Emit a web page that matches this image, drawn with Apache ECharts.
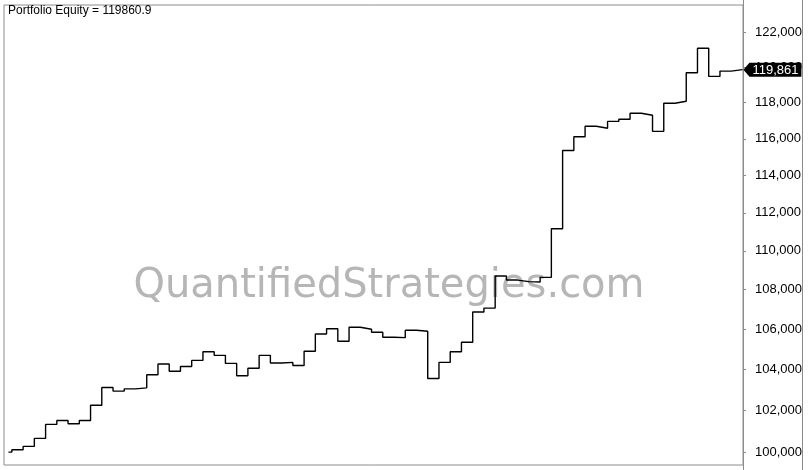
<!DOCTYPE html>
<html lang="en">
<head>
    <meta charset="UTF-8">
    <title>Portfolio Equity</title>
    <script src="https://cdn.jsdelivr.net/npm/echarts@6.0.0/dist/echarts.min.js"></script>
    <style>
        html, body { margin: 0; padding: 0; background: #fff; }
    </style>
</head>
<body>
<div id="main" style="width: 809px;height:470px;"></div>
<script type="text/javascript">
    // equity at the end of each period
    var equity = [100000, 100110, 100270, 100650, 101320, 101510, 101350, 101510, 102240, 103110,
        102930, 103040, 103090, 103730, 104260, 103900, 104140, 104440, 104870, 104690,
        104290, 103680, 104050, 104690, 104310, 104340, 104190, 104890, 105750, 106020,
        105390, 106090, 105990, 105840, 105590, 105570, 105940, 105890, 103550, 104340,
        104870, 105340, 106860, 107060, 108700, 108490, 108410, 108390, 108630, 111160,
        115360, 116110, 116690, 116580, 116960, 117080, 117410, 117300, 116410, 117970,
        118080, 119690, 121080, 119480, 119780, 119861];
    var finalEquity = 119860.9;
    var firstStart = 0.7;      // first bar is a partial period
    var xRange = [0.3, 66.05];
    // price scale is logarithmic
    var yRange = [99390, 123590];
    var yTicks = [100000, 102000, 104000, 106000, 108000, 110000, 112000, 114000,
        116000, 118000, 120000, 122000];

    function fmt(v) {
        return Math.round(v).toLocaleString('en-US');
    }

    var points = [];
    for (var i = 0; i < equity.length; i++) {
        points.push([i === 0 ? firstStart : i, Math.log(equity[i])]);
    }
    // hold the last value to the end of its period
    points.push([equity.length, Math.log(equity[equity.length - 1])]);
    var lastPt = points[points.length - 1];

    var tickLogs = yTicks.map(function (v) { return Math.log(v); });

    var myChart = echarts.init(document.getElementById('main'));
    var option = {
        animation: false,
        backgroundColor: '#fff',
        textStyle: { fontFamily: '"Liberation Sans", Arial, sans-serif' },
        title: {
            text: 'Portfolio Equity = ' + finalEquity,
            left: 8, top: 5, padding: 0,
            textStyle: { fontSize: 12, fontWeight: 'normal', color: '#000' }
        },
        grid: {
            left: 4, top: 5, right: 66, bottom: 5,
            show: true, borderColor: '#8c8c8c', borderWidth: 1
        },
        xAxis: {
            type: 'value', min: xRange[0], max: xRange[1], show: false
        },
        yAxis: {
            type: 'value', position: 'right',
            min: Math.log(yRange[0]), max: Math.log(yRange[1]),
            axisLine: { show: false },
            axisTick: { show: true, length: 3, customValues: tickLogs, lineStyle: { color: '#8c8c8c' } },
            axisLabel: {
                customValues: tickLogs, margin: 12,
                color: '#000', fontSize: 13,
                formatter: function (v) { return fmt(Math.exp(v)); }
            },
            splitLine: { show: false }
        },
        graphic: [
            {
                type: 'text', z: -10, x: 389, y: 287,
                style: {
                    text: 'QuantifiedStrategies.com',
                    font: '40px "DejaVu Sans"', fill: '#b6b6b6',
                    align: 'center', verticalAlign: 'middle'
                }
            },
            { type: 'line', shape: { x1: 743.5, y1: 0, x2: 743.5, y2: 470 }, style: { stroke: '#8c8c8c', lineWidth: 1 } },
            { type: 'line', shape: { x1: 802.5, y1: 0, x2: 802.5, y2: 470 }, style: { stroke: '#8c8c8c', lineWidth: 1 } }
        ],
        series: [
            {
                type: 'line',
                step: 'end',
                data: points,
                showSymbol: false,
                lineStyle: { color: '#000', width: 1.4 },
                markPoint: {
                    silent: true,
                    data: [{
                        coord: lastPt,
                        symbol: 'path://M0,7 L6,0 L58,0 L58,14 L6,14 Z',
                        symbolSize: [58, 14],
                        symbolOffset: [30, 0],
                        itemStyle: { color: '#000' },
                        label: {
                            show: true, position: 'inside', offset: [3, 1],
                            color: '#fff', fontSize: 13,
                            formatter: function () { return fmt(finalEquity); }
                        }
                    }]
                }
            }
        ]
    };
    myChart.setOption(option);
</script>
</body>
</html>
